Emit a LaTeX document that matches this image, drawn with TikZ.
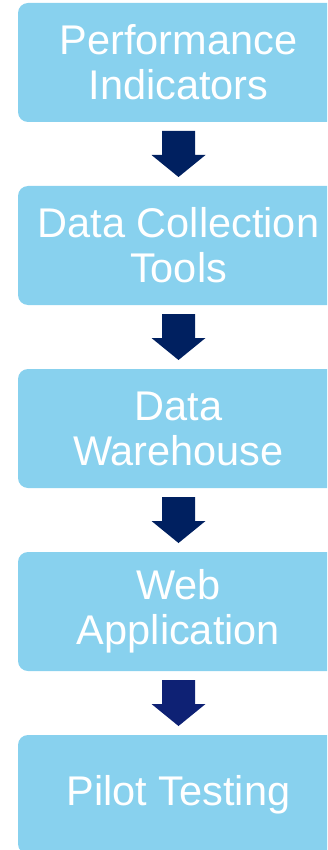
\documentclass[tikz,border=0pt]{standalone}
\usepackage{fontspec}
\setmainfont{Liberation Sans}
\usetikzlibrary{calc}
\definecolor{boxblue}{HTML}{88D1EE}
\definecolor{navy}{HTML}{002060}
\definecolor{navylast}{HTML}{0E2174}
\tikzset{
  stagebox/.style={draw=none, fill=boxblue, rounded corners=10pt,
    minimum width=321pt, minimum height=119pt, inner sep=0pt,
    text=white, align=center,
    font=\fontsize{41.5pt}{45pt}\selectfont},
}
\newcommand\flowarrow[4]{%
  \path ($(#1.south)!0.5!(#2.north)$) coordinate (#3);
  \fill[#4] ([shift={(-16.5,-23)}]#3) -- ([shift={(16.5,-23)}]#3)
    -- ([shift={(16.5,1)}]#3) -- ([shift={(27,1)}]#3)
    -- ([shift={(0,23)}]#3) -- ([shift={(-27,1)}]#3)
    -- ([shift={(-16.5,1)}]#3) -- cycle;
}
\begin{document}
\begin{tikzpicture}[x=1pt,y=-1pt]
\useasboundingbox (0,0) rectangle (327,850);
\clip (0,0) rectangle (327,850);
\node[stagebox] (b1) at (178.5,62.5) {Performance\\Indicators};
\node[stagebox] (b2) at (178.5,245.5) {Data Collection\\Tools};
\node[stagebox] (b3) at (178.5,428.5) {Data\\Warehouse};
\node[stagebox] (b4) at (178.5,611.5) {Web\\Application};
\node[stagebox] (b5) at (178.5,794.5) {Pilot Testing};
\flowarrow{b1}{b2}{m1}{navy}
\flowarrow{b2}{b3}{m2}{navy}
\flowarrow{b3}{b4}{m3}{navy}
\flowarrow{b4}{b5}{m4}{navylast}
\end{tikzpicture}
\end{document}
